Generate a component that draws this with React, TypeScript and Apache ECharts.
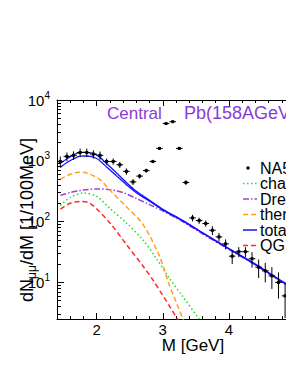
import React, { useEffect, useRef } from 'react';
import * as echarts from 'echarts';

// ---- data ----
const dataM = [1.45, 1.55, 1.65, 1.75, 1.85, 1.95, 2.05, 2.15, 2.25, 2.35, 2.45, 2.55, 2.65, 2.75, 2.85, 2.95, 3.05, 3.15, 3.25, 3.35,
  3.45, 3.55, 3.65, 3.75, 3.85, 3.95, 4.05, 4.15, 4.25, 4.35, 4.45, 4.55, 4.65, 4.75, 4.85];
const dataY = [975, 1180, 1230, 1370, 1370, 1290, 1230, 975, 975, 860, 670, 450, 560, 690, 975, 1600, 4100, 4400, 1600, 440,
  115, 104, 93, 72, 56, 43, 27, 32, 32, 24.5, 17.8, 15.5, 12.8, 10, 6];
const dataErr = [200, 190, 200, 220, 220, 200, 190, 115, 115, 100, 80, 50, 50, 50, 60, 80, 150, 150, 80, 40,
  14, 12, 11, 12, 9, 8, 7, 6, 6, 7, 6, 5.5, 5, 4.6, 3.4];

const totalM = [1.45, 1.55, 1.65, 1.75, 1.85, 2.0, 2.15, 2.3, 2.45, 2.6, 2.8, 3.0, 3.3, 3.6, 4.0, 4.4, 4.8, 5.0];
const totalHi = [900, 1080, 1250, 1380, 1380, 1250, 900, 630, 440, 315, 225, 160, 105, 66, 36, 20, 10.5, 8];
const totalLo = [780, 935, 1080, 1190, 1200, 1090, 790, 565, 405, 298, 217, 156, 103, 65, 35.5, 19.6, 10.3, 7.9];

const dyM = [1.45, 1.6, 1.8, 2.0, 2.2, 2.4, 2.6, 2.8, 3.0, 3.3, 3.6, 4.0, 4.4, 4.8, 5.0];
const dyY = [270, 300, 330, 345, 335, 300, 240, 190, 150, 100, 63, 35, 19.4, 10.1, 7.8];

const thermalM = [1.45, 1.6, 1.72, 1.85, 2.05, 2.2, 2.45, 2.7, 2.95, 3.1, 3.2, 3.3, 3.4];
const thermalY = [500, 600, 650, 630, 490, 330, 175, 90, 27, 9, 4.8, 2.6, 1.4];

const charmM = [1.45, 1.6, 1.8, 2.0, 2.2, 2.45, 2.7, 2.9, 3.1, 3.3, 3.55, 3.7];
const charmY = [185, 250, 295, 260, 165, 95, 50, 25, 11.7, 5.9, 2.5, 1.5];

const qgpM = [1.45, 1.6, 1.74, 1.9, 2.2, 2.45, 2.7, 2.85, 3.0, 3.1, 3.21, 3.3];
const qgpY = [160, 200, 215, 200, 95, 42, 18.6, 11, 6.1, 4.1, 2.6, 1.8];

const xMajor = [2, 3, 4];
const yMajor = [10, 100, 1000, 10000];
const yMinor = [3, 4, 5, 6, 7, 8, 9, 20, 30, 40, 50, 60, 70, 80, 90, 200, 300, 400, 500, 600, 700, 800, 900,
  2000, 3000, 4000, 5000, 6000, 7000, 8000, 9000];

const legendNames = ['NA50', 'charm', 'Drell-Yan', 'thermal', 'total', 'QGP'];

const FONT = 'Liberation Sans, Arial, Helvetica, sans-serif';
const C_GREEN = '#22e022';
const C_PURPLE = '#a040d8';
const C_ORANGE = '#ffa020';
const C_BLUE = '#1010ff';
const C_RED = '#ff2a2a';
const C_TITLE = '#8a3bd6';

const zip = (xs: number[], ys: number[]) => xs.map((x, i) => [x, ys[i]]);

export default function App() {
  const ref = useRef<HTMLDivElement>(null);
  useEffect(() => {
    const chart = echarts.init(ref.current!, null, { renderer: 'svg' });

    const lineSeries = (data: number[][], color: string, type: any, width = 1.5) => ({
      type: 'line',
      data,
      smooth: 0.3,
      showSymbol: false,
      symbol: 'none',
      clip: true,
      lineStyle: { color, width, type },
      z: 3,
    });

    const legY0 = 168;
    const legStep = 15.5;
    const legX1 = 243, legX2 = 257, legTX = 260;
    const legStyles: any[] = [
      null,
      { stroke: C_GREEN, lineDash: [1.5, 2.5] },
      { stroke: C_PURPLE, lineDash: [6, 2, 1.5, 2] },
      { stroke: C_ORANGE, lineDash: [5, 3] },
      { stroke: C_BLUE, lineDash: null },
      { stroke: C_RED, lineDash: [5, 3] },
    ];
    const legendGraphics: any[] = [];
    legendNames.forEach((name, i) => {
      const y = legY0 + i * legStep;
      if (i === 0) {
        legendGraphics.push({ type: 'rect', shape: { x: 246.5, y: y - 1.5, width: 3, height: 3 }, style: { fill: '#000' } });
      } else {
        legendGraphics.push({
          type: 'line', shape: { x1: legX1, y1: y, x2: legX2, y2: y },
          style: { stroke: legStyles[i].stroke, lineWidth: 1.5, lineDash: legStyles[i].lineDash },
        });
      }
      legendGraphics.push({
        type: 'text', x: legTX, y,
        style: { text: name, fontSize: 16, fontFamily: FONT, fill: '#000', align: 'left', verticalAlign: 'middle' },
      });
    });

    const option: any = {
      animation: false,
      backgroundColor: '#fff',
      grid: { left: 57, top: 100, right: 25, bottom: 52, containLabel: false },
      xAxis: [
        {
          type: 'value', min: 1.4, max: 5, position: 'bottom',
          axisLine: { show: true, lineStyle: { color: '#000', width: 1 } },
          axisTick: { show: true, inside: true, length: 6, customValues: xMajor, lineStyle: { color: '#000' } },
          axisLabel: { show: true, customValues: xMajor, fontSize: 15, fontFamily: FONT, color: '#000', margin: 3 },
          splitLine: { show: false },
        },
        {
          type: 'value', min: 1.4, max: 5, interval: 0.2, position: 'bottom',
          axisLine: { show: false },
          axisTick: { show: true, inside: true, length: 3, lineStyle: { color: '#000' } },
          axisLabel: { show: false },
          splitLine: { show: false },
        },
        {
          type: 'value', min: 1.4, max: 5, position: 'top',
          axisLine: { show: true, lineStyle: { color: '#000', width: 1 } },
          axisTick: { show: true, inside: true, length: 6, customValues: xMajor, lineStyle: { color: '#000' } },
          axisLabel: { show: false },
          splitLine: { show: false },
        },
        {
          type: 'value', min: 1.4, max: 5, interval: 0.2, position: 'top',
          axisLine: { show: false },
          axisTick: { show: true, inside: true, length: 3, lineStyle: { color: '#000' } },
          axisLabel: { show: false },
          splitLine: { show: false },
        },
      ],
      yAxis: [
        {
          type: 'log', logBase: 10, min: 2.5, max: 10000, position: 'left',
          axisLine: { show: true, lineStyle: { color: '#000', width: 1 } },
          axisTick: { show: true, inside: true, length: 7, customValues: yMajor, lineStyle: { color: '#000' } },
          axisLabel: {
            show: true, customValues: yMajor, margin: 7,
            formatter: (v: number) => `{b|10}{s|${Math.round(Math.log10(v))}}`,
            rich: {
              b: { fontSize: 15, fontFamily: FONT, color: '#000' },
              s: { fontSize: 10, fontFamily: FONT, color: '#000', padding: [0, 0, 10, 0] },
            },
          },
          splitLine: { show: false },
        },
        {
          type: 'log', logBase: 10, min: 2.5, max: 10000, position: 'left',
          axisLine: { show: false },
          axisTick: { show: true, inside: true, length: 4, customValues: yMinor, lineStyle: { color: '#000' } },
          axisLabel: { show: false },
          splitLine: { show: false },
        },
      ],
      graphic: [
        {
          type: 'text', x: 107, y: 113,
          style: { text: 'Central', fontSize: 17, fontFamily: FONT, fill: C_TITLE, align: 'left', verticalAlign: 'middle' },
        },
        {
          type: 'text', x: 184, y: 113,
          style: { text: 'Pb(158AGeV)+Pb', fontSize: 18, fontFamily: FONT, fill: C_TITLE, align: 'left', verticalAlign: 'middle' },
        },
        {
          type: 'text', x: 193, y: 345,
          style: { text: 'M [GeV]', fontSize: 17, fontFamily: FONT, fill: '#000', align: 'center', verticalAlign: 'middle' },
        },
        {
          type: 'text', x: 27, y: 220, rotation: Math.PI / 2,
          style: {
            text: '{a|dN}{s|μμ}{a|/dM [1/100MeV]}',
            align: 'center', verticalAlign: 'middle',
            rich: {
              a: { fontSize: 18, fontFamily: FONT, fill: '#000', color: '#000' },
              s: { fontSize: 12, fontFamily: FONT, fill: '#000', color: '#000', padding: [10, 0, 0, 0] },
            },
          },
        },
        ...legendGraphics,
      ],
      series: [
        lineSeries(zip(charmM, charmY), C_GREEN, [1.5, 2.5]),
        lineSeries(zip(dyM, dyY), C_PURPLE, [6, 2, 1.5, 2]),
        lineSeries(zip(thermalM, thermalY), C_ORANGE, [5, 3]),
        lineSeries(zip(qgpM, qgpY), C_RED, [5, 3]),
        lineSeries(zip(totalM, totalHi), C_BLUE, 'solid', 1.3),
        lineSeries(zip(totalM, totalLo), C_BLUE, 'solid', 1.3),
        {
          type: 'custom',
          z: 5,
          data: dataM.map((m, i) => [m, dataY[i], dataY[i] - dataErr[i], dataY[i] + dataErr[i]]),
          renderItem: (params: any, api: any) => {
            const m = api.value(0), y = api.value(1), lo = api.value(2), hi = api.value(3);
            const c = api.coord([m, y]);
            const cl = api.coord([m, lo]);
            const ch = api.coord([m, hi]);
            const a = api.coord([m - 0.05, y]);
            const b = api.coord([m + 0.05, y]);
            return {
              type: 'group',
              children: [
                { type: 'line', shape: { x1: cl[0], y1: cl[1], x2: ch[0], y2: ch[1] }, style: { stroke: '#000', lineWidth: 1 } },
                { type: 'line', shape: { x1: a[0], y1: c[1], x2: b[0], y2: c[1] }, style: { stroke: '#000', lineWidth: 1 } },
                { type: 'rect', shape: { x: c[0] - 1.5, y: c[1] - 1.5, width: 3, height: 3 }, style: { fill: '#000' } },
              ],
            };
          },
        },
      ],
    };

    chart.setOption(option);
    return () => chart.dispose();
  }, []);

  return (
    <div style={{ position: 'fixed', left: 0, top: 0, width: 286, height: 371, overflow: 'hidden', background: '#fff' }}>
      <div ref={ref} style={{ width: 320, height: 371 }} />
    </div>
  );
}
